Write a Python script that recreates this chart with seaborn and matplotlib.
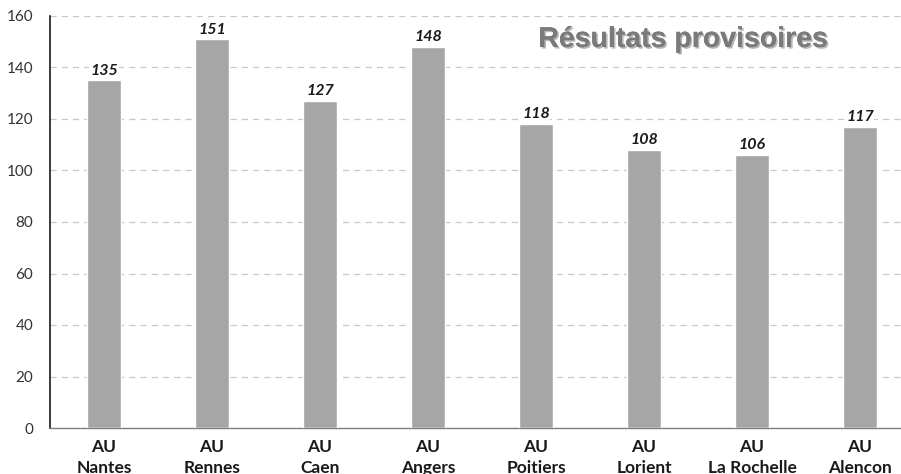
import matplotlib
matplotlib.use('Agg')
import matplotlib.pyplot as plt
import matplotlib.patheffects as pe
import seaborn as sns
import pandas as pd

### DATA
cities = ['AU\nNantes', 'AU\nRennes', 'AU\nCaen', 'AU\nAngers',
          'AU\nPoitiers', 'AU\nLorient', 'AU\nLa Rochelle', 'AU\nAlencon']
votes = [135, 151, 127, 148, 118, 108, 106, 117]
y_ticks = [0, 20, 40, 60, 80, 100, 120, 140, 160]
title = 'Résultats provisoires'

df = pd.DataFrame({'Ville': cities, 'Votes': votes})

### PLOT
sns.set_style('white')
plt.rcParams['font.family'] = ['Lato', 'DejaVu Sans']

fig = plt.figure(figsize=(9.01, 4.74), dpi=100)
ax = fig.add_axes([50 / 901, 46 / 474, 851 / 901, 412 / 474])

sns.barplot(data=df, x='Ville', y='Votes', color='#a6a6a6', width=0.315,
            saturation=1, ax=ax, zorder=3)

# value labels
for i, v in enumerate(votes):
    ax.text(i, v + 2.2, str(v), ha='center', va='baseline', fontsize=11.5,
            fontweight='bold', fontstyle='italic', color='#1a1a1a',
            bbox=dict(facecolor='white', edgecolor='none', pad=0.5), zorder=4)

# grid
ax.set_yticks(y_ticks)
ax.yaxis.grid(True, linestyle=(0, (5, 4)), color='#c8c8c8', linewidth=0.9, zorder=0)
ax.set_ylim(0, 160)
ax.set_xlim(-0.5, 7.38)

# axes
ax.set_xlabel('')
ax.set_ylabel('')
ax.tick_params(axis='x', length=0, pad=8, labelsize=12.5, labelcolor='#1a1a1a')
ax.tick_params(axis='y', length=0, pad=12, labelsize=11, labelcolor='#333333')
for lbl in ax.get_xticklabels():
    lbl.set_fontweight('bold')
    lbl.set_linespacing(1.35)

for s in ['top', 'right']:
    ax.spines[s].set_visible(False)
ax.spines['left'].set_color('#1a1a1a')
ax.spines['left'].set_linewidth(1.2)
ax.spines['bottom'].set_color('#7f7f7f')
ax.spines['bottom'].set_linewidth(1.0)

# title inside the plot
ax.text(0.744, 0.942, title, transform=ax.transAxes, ha='center', va='center',
        fontsize=20.5, fontweight='bold', color='#7a7a7a',
        family=['Liberation Sans', 'DejaVu Sans'], zorder=5,
        bbox=dict(facecolor='white', edgecolor='none', pad=1),
        path_effects=[pe.withSimplePatchShadow(offset=(1.2, -1.2), shadow_rgbFace='#606060', alpha=0.45),
                      pe.Normal()])

fig.savefig('out.png', dpi=100)
